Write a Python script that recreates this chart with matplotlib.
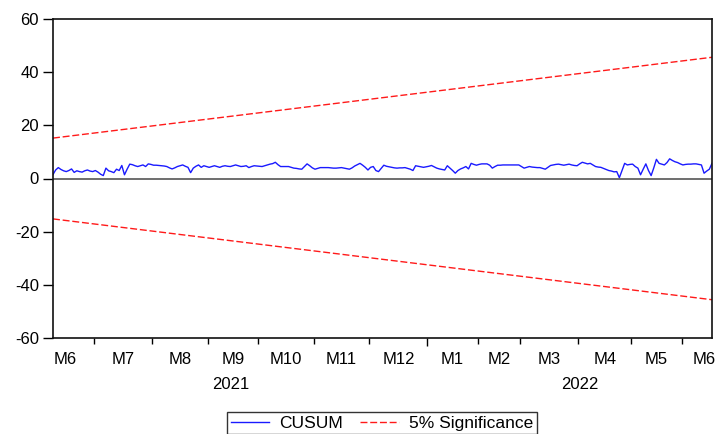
#!/usr/bin/env python3
"""CUSUM stability test chart with 5% significance bounds."""

import matplotlib
matplotlib.use("Agg")
import matplotlib.pyplot as plt
import matplotlib.transforms as mtransforms
import numpy as np


plt.rcParams.update({
    "font.family": "Liberation Sans",
    "font.size": 12,
    "axes.unicode_minus": False,
})

# CUSUM of recursive residuals, one value per observation
cusum = [
    1.5, 3.2, 4.1, 3.4, 2.9, 2.6, 3.0, 3.6, 2.3, 2.9,
    2.6, 2.4, 2.9, 3.2, 2.8, 2.6, 3.0, 2.4, 1.6, 1.1,
    3.9, 2.9, 2.6, 2.2, 3.5, 3.0, 4.9, 1.4, 3.5, 5.4,
    5.2, 4.8, 4.5, 4.8, 5.1, 4.5, 5.5, 5.3, 5.0, 5.0,
    4.9, 4.8, 4.7, 4.5, 4.0, 3.6, 4.0, 4.5, 4.8, 5.1,
    4.6, 4.2, 2.2, 3.9, 4.6, 5.1, 4.2, 4.8, 4.5, 4.2,
    4.5, 4.8, 4.5, 4.2, 4.6, 4.8, 4.6, 4.5, 4.8, 5.1,
    4.8, 4.5, 4.6, 4.8, 4.1, 4.5, 4.8, 4.7, 4.6, 4.5,
    4.8, 5.1, 5.4, 5.6, 6.1, 5.2, 4.5, 4.5, 4.5, 4.5,
    4.2, 3.9, 3.8, 3.6, 3.5, 4.5, 5.5, 4.8, 4.0, 3.5,
    3.8, 4.1, 4.1, 4.1, 4.1, 4.0, 3.9, 3.9, 4.0, 4.1,
    3.9, 3.7, 3.5, 4.0, 4.7, 5.2, 5.7, 5.0, 4.2, 3.2,
    4.2, 4.5, 3.0, 2.6, 3.8, 5.0, 4.6, 4.4, 4.2, 4.0,
    3.9, 4.0, 4.0, 4.1, 3.8, 3.5, 3.0, 4.8, 4.6, 4.4,
    4.2, 4.4, 4.6, 4.9, 4.4, 3.9, 3.6, 3.4, 3.2, 4.8,
    3.9, 3.0, 2.0, 3.0, 3.6, 4.0, 4.5, 3.6, 5.7, 5.3,
    5.0, 5.3, 5.5, 5.5, 5.5, 5.0, 3.9, 4.5, 5.0, 5.0,
    5.1, 5.1, 5.1, 5.1, 5.1, 5.1, 5.1, 4.5, 3.9, 4.2,
    4.5, 4.3, 4.2, 4.1, 4.1, 3.8, 3.5, 4.2, 4.9, 5.1,
    5.3, 5.4, 5.2, 5.0, 5.2, 5.4, 5.1, 4.9, 4.8, 5.5,
    6.1, 5.8, 5.5, 5.7, 5.1, 4.5, 4.3, 4.2, 3.8, 3.4,
    3.0, 2.8, 2.5, 2.6, 0.3, 3.0, 5.7, 5.1, 5.3, 5.4,
    4.5, 3.9, 1.4, 3.5, 5.5, 3.0, 1.1, 4.0, 7.2, 5.7,
    5.4, 5.1, 6.0, 7.4, 6.8, 6.3, 6.0, 5.5, 5.1, 5.3,
    5.4, 5.4, 5.5, 5.5, 5.3, 5.1, 2.0, 2.8, 3.5, 5.7,
]

# 5% significance bounds (straight lines), value at first and last observation
bound_start = 15.2
bound_end = 45.6

# observations per month, Jun 2021 .. Jun 2022
month_labels = ["M6", "M7", "M8", "M9", "M10", "M11", "M12",
                "M1", "M2", "M3", "M4", "M5", "M6"]
month_obs = [16, 22, 21, 19, 21, 21, 22, 19, 16, 22, 20, 19, 12]
years = ["2021", "2022"]

n = len(cusum)
obs = np.arange(n)
ends = [0, n - 1]

fig = plt.figure(figsize=(7.15, 4.34), dpi=100)
ax = fig.add_axes([53 / 715, 96 / 434, 659 / 715, 319 / 434])

ax.plot(obs, cusum, color="#1a1aff", linewidth=1.0, label="CUSUM")
ax.plot(ends, [bound_start, bound_end], color="#ff1a1a", linewidth=1.0,
        dashes=(5, 2), label="5% Significance")
ax.plot(ends, [-bound_start, -bound_end], color="#ff1a1a", linewidth=1.0,
        dashes=(5, 2))
ax.axhline(0, color="#555555", linewidth=1.2)

ax.set_xlim(0, n - 1)
ax.set_ylim(-60, 60)
ax.set_yticks(np.arange(-60, 61, 20))
ax.tick_params(axis="y", direction="out", length=7, width=1.0, pad=3)

# month boundaries as minor ticks, month names centred between them
bounds = np.cumsum(month_obs)[:-1] - 0.5
centers = [bounds[0] - 11]
centers += list((bounds[:-1] + bounds[1:]) / 2)
centers += [bounds[-1] + 8.5]
ax.set_xticks(centers, month_labels)
ax.set_xticks(bounds, minor=True)
ax.tick_params(axis="x", which="major", length=0, pad=10)
ax.tick_params(axis="x", which="minor", direction="out", length=4, width=1.0)
year_idx = month_labels.index("M1") - 1
ax.xaxis.get_minor_ticks()[year_idx].tick1line.set_markersize(6)

trans = mtransforms.blended_transform_factory(ax.transData, ax.transAxes)
ax.text(67, -0.145, years[0], transform=trans, ha="center", va="center")
ax.text(199, -0.145, years[1], transform=trans, ha="center", va="center")

for sp in ax.spines.values():
    sp.set_linewidth(1.2)
    sp.set_color("#111111")

leg = fig.legend(loc="upper center", bbox_to_anchor=(382 / 715, 22 / 434),
                 ncol=2, frameon=True, fancybox=False, edgecolor="black",
                 handlelength=2.2, columnspacing=1.0, handletextpad=0.6,
                 borderpad=0.2, borderaxespad=0, fontsize=12.5)
leg.get_frame().set_linewidth(1.0)

fig.savefig("out.png", dpi=100)
